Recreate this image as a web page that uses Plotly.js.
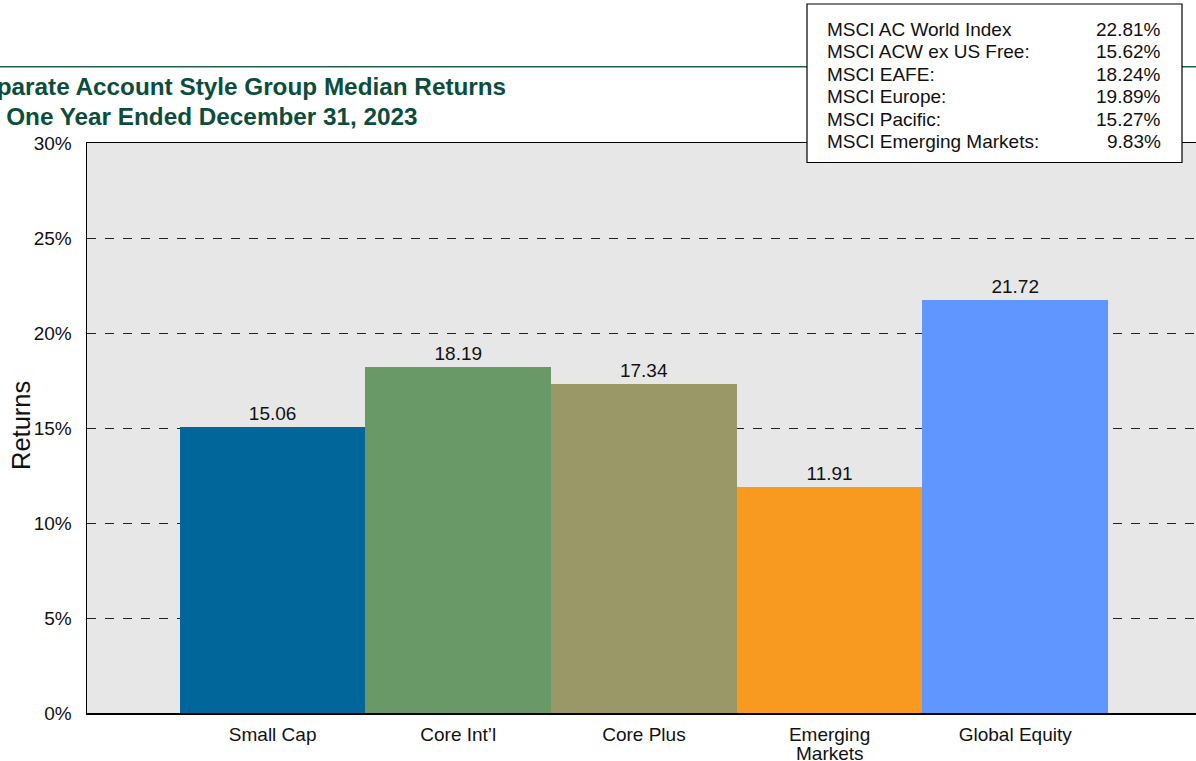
<!DOCTYPE html>
<html>
<head>
<meta charset="utf-8">
<script src="https://cdn.plot.ly/plotly-3.0.1.min.js"></script>
<style>
html,body{margin:0;padding:0;background:#fff;overflow:hidden;}
#chart{width:1196px;height:761px;}
</style>
</head>
<body>
<div id="chart"></div>
<script>
// ---- data ----
const categories = ["Small Cap", "Core Int’l", "Core Plus", "Emerging Markets", "Global Equity"];
const tickLabelLines = [["Small Cap"], ["Core Int’l"], ["Core Plus"], ["Emerging", "Markets"], ["Global Equity"]];
const medianReturns = [15.06, 18.19, 17.34, 11.91, 21.72];
const barColors = ["#016699", "#699966", "#9A9866", "#F89A20", "#6096FF"];
const indexNames = ["MSCI AC World Index", "MSCI ACW ex US Free:", "MSCI EAFE:", "MSCI Europe:", "MSCI Pacific:", "MSCI Emerging Markets:"];
const indexValues = [22.81, 15.62, 18.24, 19.89, 15.27, 9.83];
const titleLines = ["Separate Account Style Group Median Returns", "for One Year Ended December 31, 2023"];
const yAxisTitle = "Returns";
const yTickVals = [0, 5, 10, 15, 20, 25, 30];
const yTickText = yTickVals.map(v => v + "%");

// ---- layout helpers (pixel -> paper) ----
const W = 1196, H = 761;
const M = {l: 87, r: 0, t: 143, b: 48};
const PW = W - M.l - M.r, PH = H - M.t - M.b;
const px = x => (x - M.l) / PW;
const py = y => (H - M.b - y) / PH;
const FONT = "Liberation Sans, Arial, sans-serif";

const trace = {
  type: "bar",
  x: categories,
  y: medianReturns,
  width: 1,
  marker: {color: barColors, line: {width: 0}},
  text: medianReturns.map(v => v.toFixed(2)),
  textposition: "outside",
  textfont: {family: FONT, size: 19, color: "#111"},
  cliponaxis: false,
  hoverinfo: "x+y"
};

const annotations = [];
titleLines.forEach((t, i) => {
  annotations.push({
    xref: "paper", yref: "paper",
    x: px(-35.5), y: py([87, 116][i]),
    xanchor: "left", yanchor: "middle",
    text: "<b>" + t + "</b>", showarrow: false,
    font: {family: FONT, size: 24.3, color: "#0B4D3C"}
  });
});
annotations.push({
  xref: "paper", yref: "paper", x: px(21), y: py(426),
  xanchor: "center", yanchor: "middle", textangle: -90, showarrow: false,
  text: yAxisTitle, font: {family: FONT, size: 25.5, color: "#111"}
});
tickLabelLines.forEach((lines, i) => {
  lines.slice(1).forEach((ln, k) => {
    annotations.push({
      xref: "x", yref: "paper", x: categories[i], y: py(753 + 18 * k),
      xanchor: "center", yanchor: "middle", showarrow: false,
      text: ln, font: {family: FONT, size: 19, color: "#111"}
    });
  });
});
indexNames.forEach((n, i) => {
  const yc = 29.3 + 22.5 * i;
  annotations.push({
    xref: "paper", yref: "paper", x: px(825), y: py(yc),
    xanchor: "left", yanchor: "middle", showarrow: false,
    text: n, font: {family: FONT, size: 19, color: "#111"}
  });
  annotations.push({
    xref: "paper", yref: "paper", x: px(1163), y: py(yc),
    xanchor: "right", yanchor: "middle", showarrow: false,
    text: indexValues[i].toFixed(2) + "%", font: {family: FONT, size: 19, color: "#111"}
  });
});

const layout = {
  width: W, height: H,
  margin: M,
  paper_bgcolor: "#ffffff",
  plot_bgcolor: "#E7E7E7",
  showlegend: false,
  font: {family: FONT, size: 19, color: "#111"},
  bargap: 0,
  xaxis: {
    type: "category",
    range: [-1, 4.974],
    tickvals: categories,
    ticktext: tickLabelLines.map(l => l[0]),
    showgrid: false,
    showline: true, linecolor: "#000", linewidth: 1.5,
    mirror: true,
    ticks: "",
    ticklabelstandoff: 4,
    tickfont: {family: FONT, size: 19, color: "#111"},
    zeroline: false,
    fixedrange: true
  },
  yaxis: {
    range: [0, 30],
    tickmode: "array",
    tickvals: yTickVals,
    ticktext: yTickText,
    showgrid: true, gridcolor: "#222", griddash: "dash", gridwidth: 1,
    showline: true, linecolor: "#000", linewidth: 1.5,
    mirror: false,
    zeroline: false,
    ticks: "",
    ticklabelstandoff: 10,
    tickfont: {family: FONT, size: 19, color: "#111"},
    fixedrange: true
  },
  shapes: [
    {type: "line", xref: "paper", yref: "paper", x0: px(0), x1: px(W), y0: py(66.7), y1: py(66.7),
     line: {color: "#235E4E", width: 1.5}, layer: "above"},
    {type: "rect", xref: "paper", yref: "paper", x0: px(807), x1: px(1182), y0: py(4), y1: py(162.5),
     fillcolor: "#ffffff", line: {color: "#000", width: 1.2}, layer: "above"}
  ],
  annotations: annotations
};

Plotly.newPlot("chart", [trace], layout, {displayModeBar: false, staticPlot: true});
</script>
</body>
</html>
